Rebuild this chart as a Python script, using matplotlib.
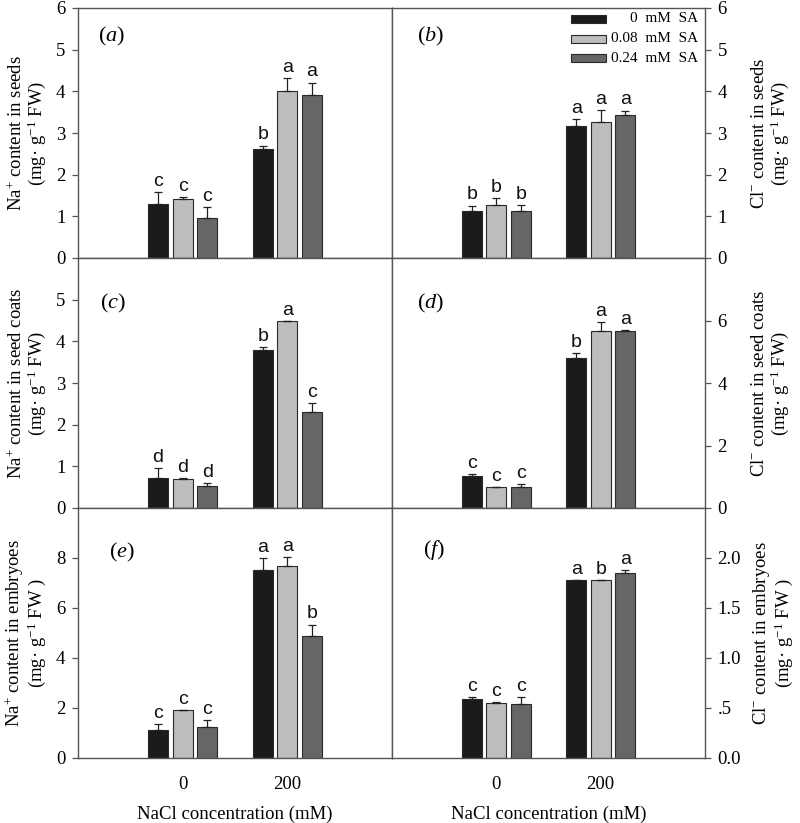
import matplotlib
matplotlib.use("Agg")
import matplotlib.pyplot as plt
import numpy as np
from matplotlib.patches import Rectangle

plt.rcParams['font.family'] = ['Liberation Serif', 'DejaVu Serif']
plt.rcParams['mathtext.fontset'] = 'custom'
plt.rcParams['mathtext.rm'] = 'Liberation Serif'
plt.rcParams['mathtext.it'] = 'Liberation Serif:italic'
plt.rcParams['mathtext.bf'] = 'Liberation Serif:bold'

# ---------------- data ----------------
nacl_levels = ["0", "200"]
series_names = ["0  mM  SA", "0.08  mM  SA", "0.24  mM  SA"]

# panel (a) Na+ seeds
a_vals = [[1.30, 2.62], [1.42, 4.02], [0.96, 3.92]]
a_err = [[0.28, 0.08], [0.04, 0.30], [0.26, 0.29]]
a_let = [["c", "b"], ["c", "a"], ["c", "a"]]
# panel (b) Cl- seeds
b_vals = [[1.14, 3.16], [1.28, 3.26], [1.14, 3.44]]
b_err = [[0.12, 0.18], [0.15, 0.29], [0.14, 0.10]]
b_let = [["b", "a"], ["b", "a"], ["b", "a"]]
# panel (c) Na+ seed coats
c_vals = [[0.71, 3.80], [0.69, 4.48], [0.54, 2.30]]
c_err = [[0.25, 0.06], [0.04, 0.0], [0.06, 0.21]]
c_let = [["d", "b"], ["d", "a"], ["d", "c"]]
# panel (d) Cl- seed coats
d_vals = [[1.04, 4.81], [0.66, 5.67], [0.68, 5.65]]
d_err = [[0.05, 0.16], [0.02, 0.27], [0.09, 0.05]]
d_let = [["c", "b"], ["c", "a"], ["c", "a"]]
# panel (e) Na+ embryos
e_vals = [[1.13, 7.51], [1.91, 7.69], [1.24, 4.88]]
e_err = [[0.23, 0.50], [0.0, 0.35], [0.29, 0.46]]
e_let = [["c", "a"], ["c", "a"], ["c", "b"]]
# panel (f) Cl- embryos
f_vals = [[0.587, 1.778], [0.551, 1.778], [0.537, 1.851]]
f_err = [[0.02, 0.006], [0.006, 0.0], [0.07, 0.033]]
f_let = [["c", "a"], ["c", "b"], ["c", "a"]]

colors = ["#1b1b1b", "#bdbdbd", "#666666"]

W, H = 800, 823
fig = plt.figure(figsize=(W / 100, H / 100), dpi=100)

def ax_at(x0, y0, x1, y1):
    return fig.add_axes([x0 / W, 1 - y1 / H, (x1 - x0) / W, (y1 - y0) / H])

axes = {
    'a': ax_at(78, 8, 392, 258),
    'b': ax_at(392, 8, 705, 258),
    'c': ax_at(78, 258, 392, 508),
    'd': ax_at(392, 258, 705, 508),
    'e': ax_at(78, 508, 392, 758),
    'f': ax_at(392, 508, 705, 758),
}

panels = {
    'a': (a_vals, a_err, a_let, 6, [0, 1, 2, 3, 4, 5, 6], ["0", "1", "2", "3", "4", "5", "6"],
          "Na$^{+}$ content in seeds\n(mg· g$^{-1}$ FW)"),
    'b': (b_vals, b_err, b_let, 6, [0, 1, 2, 3, 4, 5, 6], ["0", "1", "2", "3", "4", "5", "6"],
          "Cl$^{-}$ content in seeds\n(mg· g$^{-1}$ FW)"),
    'c': (c_vals, c_err, c_let, 6, [0, 1, 2, 3, 4, 5], ["0", "1", "2", "3", "4", "5"],
          "Na$^{+}$ content in seed coats\n(mg· g$^{-1}$ FW)"),
    'd': (d_vals, d_err, d_let, 8, [0, 2, 4, 6], ["0", "2", "4", "6"],
          "Cl$^{-}$ content in seed coats\n(mg· g$^{-1}$ FW)"),
    'e': (e_vals, e_err, e_let, 10, [0, 2, 4, 6, 8], ["0", "2", "4", "6", "8"],
          "Na$^{+}$ content in embryoes\n(mg· g$^{-1}$ FW )"),
    'f': (f_vals, f_err, f_let, 2.5, [0, 0.5, 1.0, 1.5, 2.0], ["0.0", ".5", "1.0", "1.5", "2.0"],
          "Cl$^{-}$ content in embryoes\n(mg· g$^{-1}$ FW )"),
}

label_pos = {'a': (0.064, 0.888), 'b': (0.08, 0.888), 'c': (0.07, 0.82),
             'd': (0.08, 0.82), 'e': (0.10, 0.824), 'f': (0.10, 0.83)}

x = np.arange(1, len(nacl_levels) + 1)
offs = [-0.235, 0.0, 0.235]
bw = 0.19
spine_col = "#555555"

for key, ax in axes.items():
    vals, errs, lets, ymax, yt, ytl, ylab = panels[key]
    right = key in ('b', 'd', 'f')
    for i in range(3):
        xs = x + offs[i]
        ax.bar(xs, vals[i], width=bw, color=colors[i], edgecolor="#2a2a2a",
               linewidth=0.8, zorder=2)
        ax.errorbar(xs, vals[i], yerr=[np.zeros(len(xs)), errs[i]], fmt='none',
                    ecolor="#222222", elinewidth=0.9, capsize=3, capthick=0.9, zorder=3)
        for j in range(len(xs)):
            ax.annotate(lets[i][j], (xs[j], vals[i][j] + errs[i][j]), xytext=(0, 1.5),
                        textcoords='offset points', ha='center', va='bottom',
                        fontsize=14, family='Liberation Sans', color="#111111")
    ax.set_xlim(0, 3)
    ax.set_ylim(0, ymax)
    ax.set_yticks(yt)
    ax.set_yticklabels(ytl)
    for s in ax.spines.values():
        s.set_color(spine_col)
        s.set_linewidth(1.0)
    ax.tick_params(axis='y', direction='out', length=4, width=0.9, color=spine_col,
                   labelsize=13.5, pad=5)
    if right:
        ax.yaxis.tick_right()
        ax.yaxis.set_label_position('right')
        ax.set_ylabel(ylab, fontsize=13.5, linespacing=1.0)
        ax.yaxis.set_label_coords(1.148, 0.5)
    else:
        ax.set_ylabel(ylab, fontsize=13.5, linespacing=1.0)
        ax.yaxis.set_label_coords(-0.095, 0.5)
    if key in ('e', 'f'):
        ax.set_xticks(x)
        ax.set_xticklabels(nacl_levels)
        ax.tick_params(axis='x', length=0, labelsize=13.5, pad=13)
        ax.set_xlabel("NaCl concentration (mM)", fontsize=13.5)
        ax.xaxis.set_label_coords(0.5, -0.19)
    else:
        ax.set_xticks([])
    lx, ly = label_pos[key]
    ax.text(lx, ly, "($%s$)" % key, transform=ax.transAxes, fontsize=16,
            ha='left', va='center')

# legend in panel (b)
axb = axes['b']
rows_y = [0.956, 0.876, 0.80]
for i in range(3):
    axb.add_patch(Rectangle((0.572, rows_y[i] - 0.016), 0.112, 0.032,
                            transform=axb.transAxes, facecolor=colors[i],
                            edgecolor="#2a2a2a", linewidth=0.8, zorder=4))
    axb.text(0.978, rows_y[i], series_names[i], transform=axb.transAxes,
             ha='right', va='center', fontsize=11)

fig.savefig("out.png", dpi=100)
